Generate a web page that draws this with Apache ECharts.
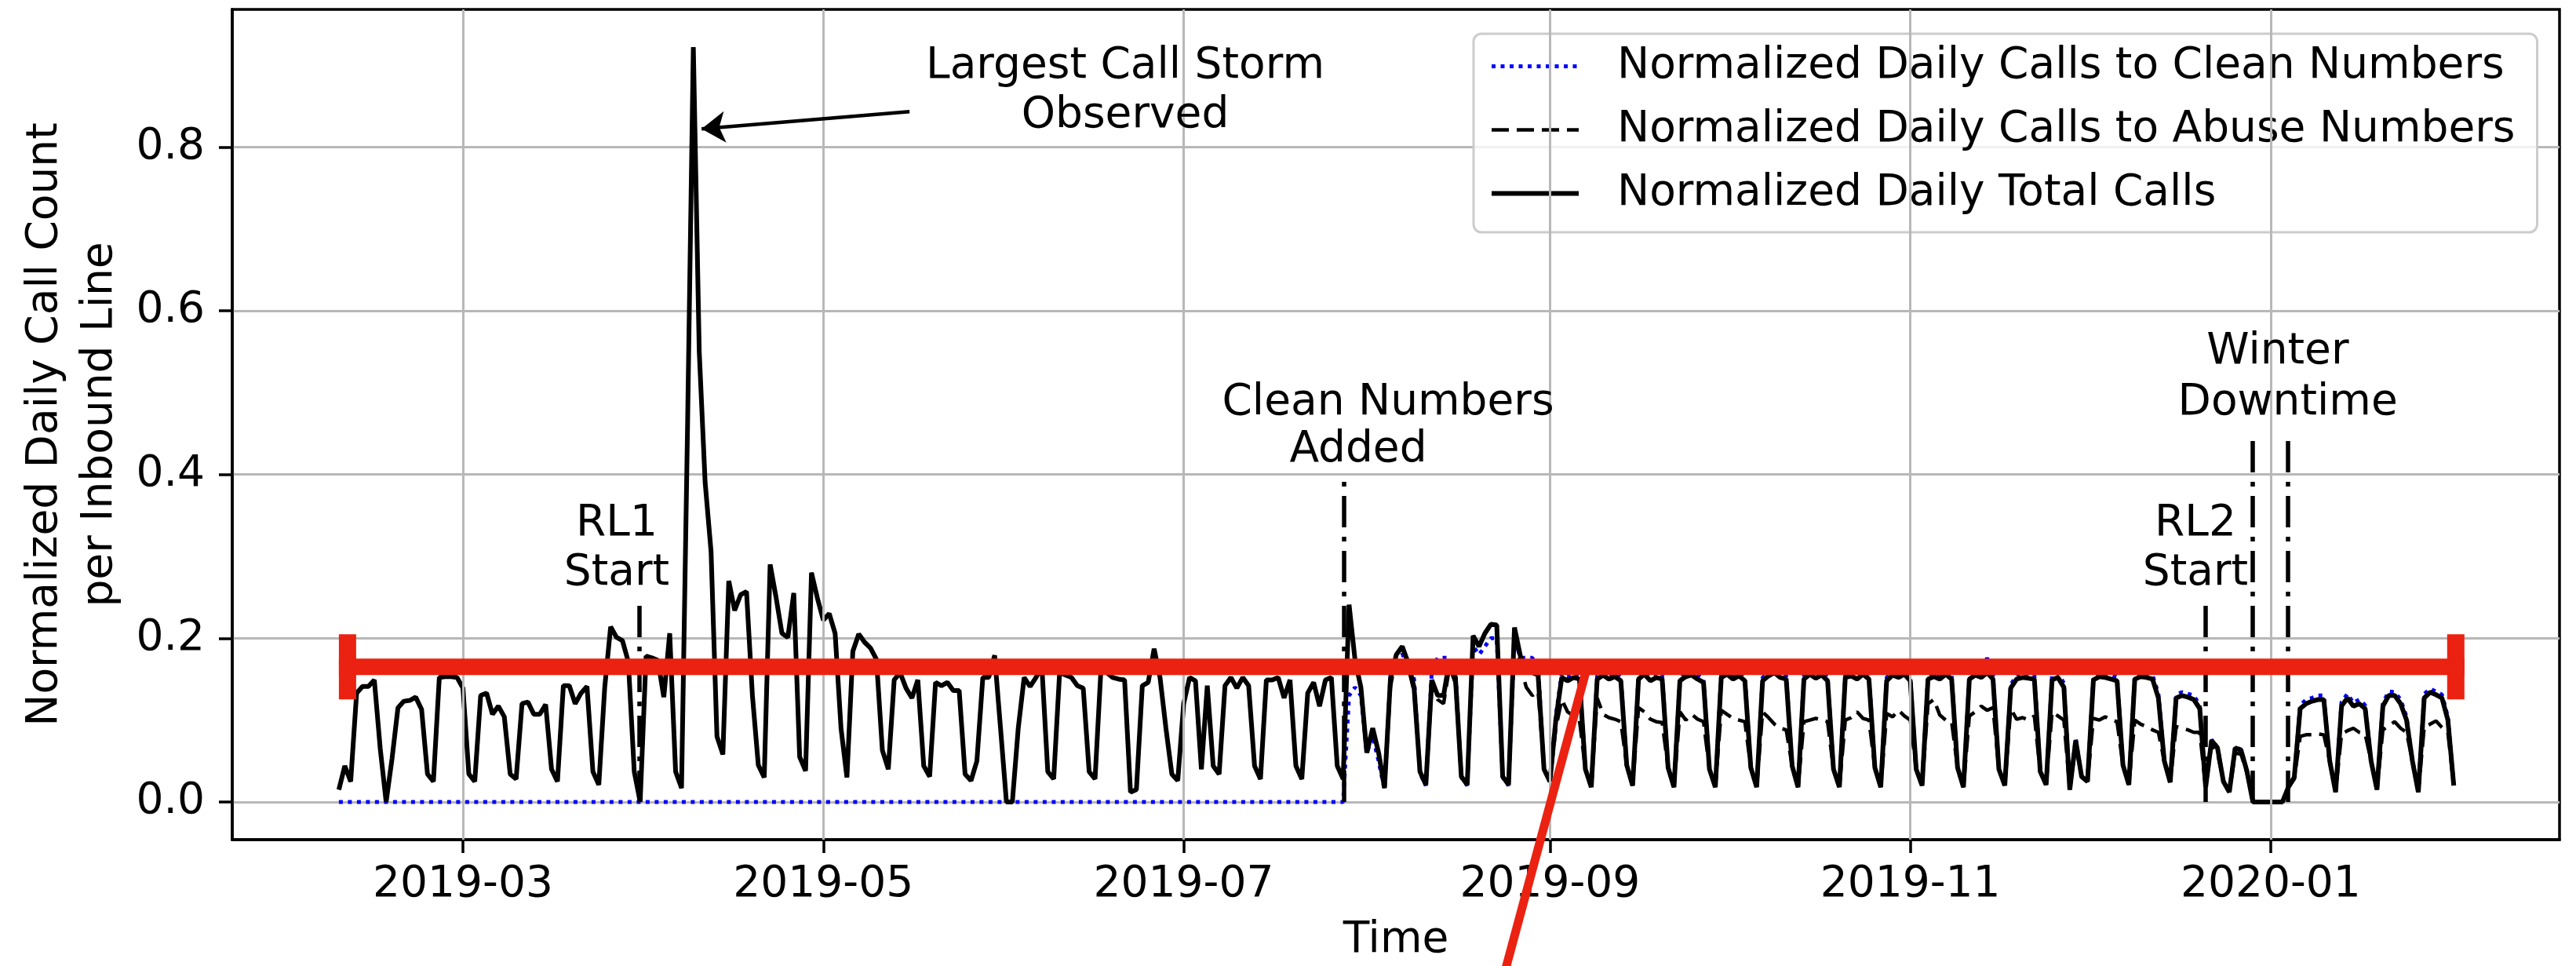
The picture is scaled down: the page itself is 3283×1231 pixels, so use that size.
<!DOCTYPE html>
<html><head><meta charset="utf-8">
<script src="https://cdn.jsdelivr.net/npm/echarts@6/dist/echarts.min.js"></script>
<style>html,body{margin:0;padding:0;background:#fff}#c{width:3283px;height:1231px}</style>
</head><body><div id="c"></div>
<script>
// ---------------- data (daily, first day = 2019-02-08) ----------------
const firstDay = [2019, 1, 8];
const seriesNames = ['Normalized Daily Calls to Clean Numbers', 'Normalized Daily Calls to Abuse Numbers', 'Normalized Daily Total Calls'];
const xTickLabels = ['2019-03', '2019-05', '2019-07', '2019-09', '2019-11', '2020-01'];
const yTickValues = [0, 0.2, 0.4, 0.6, 0.8];

const total = [
0.015,0.044,0.025,
0.133,0.141,0.141,0.149,0.065,0.0,0.053,
0.115,0.123,0.124,0.128,0.113,0.034,0.025,
0.152,0.153,0.153,0.152,0.139,0.034,0.025,
0.130,0.133,0.107,0.117,0.104,0.034,0.028,
0.120,0.122,0.107,0.107,0.119,0.040,0.025,
0.142,0.142,0.120,0.133,0.141,0.037,0.021,
0.140,0.214,0.201,0.197,0.171,0.037,0.0,
0.178,0.176,0.173,0.128,0.206,0.037,0.017,
0.450,0.922,0.550,0.390,0.306,0.080,0.058,
0.270,0.234,0.253,0.257,0.130,0.045,0.030,
0.290,0.250,0.206,0.201,0.255,0.055,0.038,
0.280,0.249,0.222,0.230,0.206,0.090,0.030,
0.184,0.205,0.195,0.188,0.174,0.063,0.040,
0.149,0.158,0.139,0.127,0.149,0.044,0.031,
0.146,0.142,0.146,0.136,0.136,0.034,0.026,
0.050,0.152,0.152,0.179,0.090,0.000,0.000,
0.090,0.152,0.141,0.152,0.165,0.037,0.028,
0.158,0.155,0.152,0.142,0.139,0.037,0.028,
0.162,0.158,0.152,0.150,0.149,0.012,0.015,
0.142,0.146,0.187,0.152,0.090,0.034,0.026,
0.120,0.152,0.148,0.040,0.142,0.044,0.034,
0.142,0.152,0.139,0.152,0.142,0.044,0.028,
0.149,0.149,0.152,0.127,0.149,0.044,0.028,
0.133,0.146,0.117,0.149,0.152,0.044,0.028,
0.241,0.174,0.140,0.060,0.090,0.060,0.017,
0.150,0.180,0.190,0.170,0.140,0.037,0.021,
0.149,0.130,0.130,0.173,0.152,0.031,0.021,
0.203,0.190,0.206,0.217,0.216,0.031,0.021,
0.213,0.178,0.160,0.158,0.155,0.040,0.025,
0.100,0.152,0.148,0.152,0.150,0.040,0.018,
0.150,0.155,0.150,0.153,0.148,0.045,0.020,
0.150,0.156,0.148,0.152,0.150,0.042,0.018,
0.148,0.153,0.155,0.150,0.146,0.040,0.018,
0.152,0.156,0.150,0.154,0.148,0.042,0.018,
0.148,0.154,0.158,0.152,0.150,0.044,0.018,
0.150,0.156,0.151,0.155,0.148,0.040,0.018,
0.152,0.154,0.150,0.156,0.150,0.042,0.018,
0.148,0.155,0.152,0.156,0.148,0.040,0.020,
0.150,0.153,0.150,0.156,0.150,0.042,0.018,
0.150,0.155,0.152,0.158,0.150,0.040,0.020,
0.139,0.150,0.152,0.151,0.150,0.037,0.021,
0.149,0.152,0.140,0.015,0.075,0.031,0.025,
0.149,0.153,0.152,0.150,0.148,0.045,0.021,
0.150,0.153,0.152,0.150,0.127,0.050,0.024,
0.127,0.130,0.128,0.125,0.114,0.018,0.075,
0.066,0.025,0.012,0.066,0.063,0.037,0.000,
0.000,0.000,0.000,0.000,0.000,0.018,0.030,
0.114,0.120,0.123,0.125,0.125,0.050,0.012,
0.117,0.127,0.117,0.120,0.114,0.050,0.015,
0.117,0.130,0.130,0.120,0.100,0.050,0.012,
0.127,0.134,0.131,0.127,0.100,0.020
];

const abuse = [
0.015,0.044,0.025,
0.133,0.141,0.141,0.149,0.065,0.0,0.053,
0.115,0.123,0.124,0.128,0.113,0.034,0.025,
0.152,0.153,0.153,0.152,0.139,0.034,0.025,
0.130,0.133,0.107,0.117,0.104,0.034,0.028,
0.120,0.122,0.107,0.107,0.119,0.040,0.025,
0.142,0.142,0.120,0.133,0.141,0.037,0.021,
0.140,0.214,0.201,0.197,0.171,0.037,0.0,
0.178,0.176,0.173,0.128,0.206,0.037,0.017,
0.450,0.922,0.550,0.390,0.306,0.080,0.058,
0.270,0.234,0.253,0.257,0.130,0.045,0.030,
0.290,0.250,0.206,0.201,0.255,0.055,0.038,
0.280,0.249,0.222,0.230,0.206,0.090,0.030,
0.184,0.205,0.195,0.188,0.174,0.063,0.040,
0.149,0.158,0.139,0.127,0.149,0.044,0.031,
0.146,0.142,0.146,0.136,0.136,0.034,0.026,
0.050,0.152,0.152,0.179,0.090,0.000,0.000,
0.090,0.152,0.141,0.152,0.165,0.037,0.028,
0.158,0.155,0.152,0.142,0.139,0.037,0.028,
0.162,0.158,0.152,0.150,0.149,0.012,0.015,
0.142,0.146,0.187,0.152,0.090,0.034,0.026,
0.120,0.152,0.148,0.040,0.142,0.044,0.034,
0.142,0.152,0.139,0.152,0.142,0.044,0.028,
0.149,0.149,0.152,0.127,0.149,0.044,0.028,
0.133,0.146,0.117,0.149,0.152,0.044,0.028,
0.241,0.174,0.140,0.060,0.090,0.060,0.017,
0.140,0.180,0.190,0.165,0.135,0.037,0.021,
0.140,0.125,0.120,0.165,0.145,0.031,0.021,
0.203,0.190,0.206,0.217,0.216,0.031,0.021,
0.210,0.165,0.140,0.130,0.135,0.040,0.025,
0.090,0.125,0.110,0.105,0.100,0.040,0.018,
0.127,0.107,0.103,0.101,0.098,0.045,0.020,
0.115,0.110,0.101,0.098,0.097,0.042,0.018,
0.110,0.100,0.107,0.101,0.098,0.040,0.018,
0.112,0.107,0.102,0.100,0.098,0.042,0.018,
0.110,0.103,0.095,0.090,0.088,0.044,0.018,
0.098,0.100,0.102,0.100,0.098,0.040,0.018,
0.100,0.103,0.110,0.102,0.100,0.042,0.018,
0.108,0.104,0.112,0.105,0.100,0.040,0.020,
0.120,0.125,0.106,0.100,0.098,0.042,0.018,
0.105,0.110,0.117,0.112,0.115,0.040,0.020,
0.114,0.101,0.103,0.100,0.105,0.037,0.021,
0.110,0.105,0.100,0.015,0.070,0.031,0.025,
0.102,0.100,0.104,0.100,0.098,0.045,0.021,
0.100,0.095,0.092,0.088,0.085,0.050,0.024,
0.092,0.090,0.088,0.085,0.085,0.018,0.070,
0.060,0.025,0.012,0.060,0.058,0.035,0.000,
0.000,0.000,0.000,0.000,0.000,0.018,0.028,
0.080,0.082,0.082,0.083,0.082,0.050,0.012,
0.083,0.087,0.090,0.085,0.083,0.050,0.015,
0.088,0.093,0.098,0.090,0.085,0.050,0.012,
0.092,0.095,0.099,0.091,0.085,0.020
];

const clean = [
0,0,0,
0,0,0,0,0,0,0, 0,0,0,0,0,0,0, 0,0,0,0,0,0,0, 0,0,0,0,0,0,0,
0,0,0,0,0,0,0, 0,0,0,0,0,0,0, 0,0,0,0,0,0,0, 0,0,0,0,0,0,0,
0,0,0,0,0,0,0, 0,0,0,0,0,0,0, 0,0,0,0,0,0,0, 0,0,0,0,0,0,0,
0,0,0,0,0,0,0, 0,0,0,0,0,0,0, 0,0,0,0,0,0,0, 0,0,0,0,0,0,0,
0,0,0,0,0,0,0, 0,0,0,0,0,0,0, 0,0,0,0,0,0,0, 0,0,0,0,0,0,0,
0,0,0,0,0,0,0, 0,0,0,0,0,0,0, 0,0,0,0,0,0,0, 0,0,0,0,0,0,0,
0.130,0.140,0.130,0.060,0.080,0.050,0.015,
0.155,0.175,0.180,0.170,0.150,0.035,0.020,
0.160,0.176,0.176,0.176,0.160,0.030,0.020,
0.190,0.180,0.190,0.200,0.200,0.030,0.020,
0.200,0.176,0.176,0.176,0.165,0.040,0.025,
0.105,0.157,0.153,0.157,0.154,0.040,0.018,
0.154,0.160,0.155,0.158,0.152,0.045,0.020,
0.155,0.160,0.153,0.157,0.155,0.042,0.018,
0.152,0.158,0.160,0.155,0.150,0.040,0.018,
0.157,0.160,0.155,0.158,0.152,0.042,0.018,
0.152,0.158,0.176,0.157,0.154,0.044,0.018,
0.155,0.160,0.155,0.160,0.152,0.040,0.018,
0.157,0.158,0.155,0.160,0.155,0.042,0.018,
0.152,0.160,0.157,0.160,0.152,0.040,0.020,
0.155,0.158,0.155,0.160,0.155,0.042,0.018,
0.155,0.160,0.157,0.176,0.155,0.040,0.020,
0.143,0.155,0.157,0.155,0.155,0.037,0.021,
0.154,0.157,0.145,0.015,0.077,0.031,0.025,
0.154,0.158,0.157,0.155,0.153,0.045,0.021,
0.155,0.158,0.157,0.155,0.132,0.050,0.024,
0.131,0.134,0.132,0.130,0.118,0.018,0.076,
0.067,0.025,0.012,0.067,0.064,0.037,0.000,
0.000,0.000,0.000,0.000,0.000,0.018,0.030,
0.118,0.125,0.127,0.130,0.130,0.050,0.012,
0.122,0.132,0.121,0.125,0.118,0.050,0.015,
0.121,0.135,0.134,0.125,0.104,0.050,0.012,
0.132,0.138,0.135,0.131,0.104,0.020
];

// annotations (positions in days since first day, value units)
const notes = [
  {text: 'Largest Call Storm\nObserved', day: 133.1, y: 0.8686},
  {text: 'RL1\nStart', day: 47.03, y: 0.3093},
  {text: 'Clean Numbers', day: 177.6, y: 0.4876},
  {text: 'Added', day: 172.55, y: 0.4293},
  {text: 'RL2\nStart', day: 314.27, y: 0.3093},
  {text: 'Winter', day: 328.2, y: 0.5497},
  {text: 'Downtime', day: 329.9, y: 0.4876}
];
const eventLines = [
  {day: 50.88, top: 0.2495},
  {day: 170.15, top: 0.3996},
  {day: 315.95, top: 0.2495},
  {day: 323.96, top: 0.4484},
  {day: 329.94, top: 0.4484}
];
const arrow = {from: [96.6, 0.8432], to: [61.4, 0.8222]};
const redMark = {startDay: 0, endDay: 359.8, level: 0.165, diagDay: 211.16};
const xRange = [-18.05, 375.9];
const yRange = [-0.0461, 0.9681];

// ---------------- build ----------------
const DAY = 86400000;
const t0 = new Date(firstDay[0], firstDay[1], firstDay[2]).getTime();
const dayTime = d => t0 + d * DAY;
const dates = total.map((_, i) => new Date(firstDay[0], firstDay[1], firstDay[2] + i).getTime());
const pairs = arr => arr.map((v, i) => [dates[i], v]);
const xTickValues = xTickLabels.map(s => { const p = s.split('-'); return new Date(+p[0], +p[1] - 1, 1).getTime(); });
const fmtMonth = v => { const d = new Date(v); return d.getFullYear() + '-' + String(d.getMonth() + 1).padStart(2, '0'); };

const FONT = 'DejaVu Sans';
const GRID = '#b8b8b8';
const styles = [
  {color: '#0000ff', width: 5, type: [5, 6.5]},
  {color: '#000000', width: 4.5, type: [22, 10]},
  {color: '#000000', width: 6, type: 'solid'}
];
const chart = echarts.init(document.getElementById('c'), null, {renderer: 'canvas'});

const option = {
  animation: false,
  backgroundColor: '#ffffff',
  textStyle: {fontFamily: FONT},
  grid: {left: 296, right: 21, top: 12, bottom: 158, show: true, borderColor: '#000', borderWidth: 3.5, backgroundColor: 'transparent'},
  legend: {
    data: seriesNames.map((n, i) => ({name: n, itemStyle: {opacity: 0}, lineStyle: {color: styles[i].color, width: styles[i].width, type: styles[i].type}})),
    orient: 'vertical', left: 1878, top: 43,
    padding: [14, 28, 22, 20], itemGap: 26, itemWidth: 111, itemHeight: 30,
    itemStyle: {opacity: 0},
    backgroundColor: 'rgba(255,255,255,0.8)', borderColor: '#cccccc', borderWidth: 3, borderRadius: 10,
    textStyle: {fontFamily: FONT, fontSize: 55, color: '#000', lineHeight: 55, padding: [0, 0, 0, 44]}
  },
  xAxis: {
    type: 'value', min: dayTime(xRange[0]), max: dayTime(xRange[1]),
    name: 'Time', nameLocation: 'middle', nameGap: 101,
    nameTextStyle: {fontFamily: FONT, fontSize: 55, color: '#000'},
    axisLine: {show: true, onZero: false, lineStyle: {color: '#000', width: 3.5}},
    axisTick: {show: true, length: 17, lineStyle: {color: '#000', width: 3.5}, customValues: xTickValues},
    axisLabel: {show: true, margin: 30, fontFamily: FONT, fontSize: 55, color: '#000', customValues: xTickValues,
      formatter: fmtMonth},
    splitLine: {show: false}
  },
  yAxis: {
    type: 'value', min: yRange[0], max: yRange[1], splitNumber: 5,
    name: 'Normalized Daily Call Count\nper Inbound Line', nameLocation: 'middle', nameRotate: 90, nameGap: 121,
    nameTextStyle: {fontFamily: FONT, fontSize: 55, color: '#000', lineHeight: 70, align: 'center'},
    axisLine: {show: true, onZero: false, lineStyle: {color: '#000', width: 3.5}},
    axisTick: {show: true, length: 17, lineStyle: {color: '#000', width: 3.5}, customValues: yTickValues},
    axisLabel: {show: true, margin: 35, fontFamily: FONT, fontSize: 55, color: '#000', customValues: yTickValues,
      formatter: v => (Math.round(v * 10) / 10).toFixed(1)},
    splitLine: {show: true, lineStyle: {color: GRID, width: 3}}
  },
  series: [
    {
      name: 'xgrid', type: 'line', data: [], z: 1, silent: true,
      markLine: {
        silent: true, symbol: ['none', 'none'], animation: false, label: {show: false},
        lineStyle: {color: GRID, width: 3, type: 'solid'},
        data: xTickValues.map(t => ({xAxis: t}))
      }
    },
    {
      name: seriesNames[0], type: 'line', data: pairs(clean), symbol: 'none', showSymbol: false, z: 2,
      lineStyle: styles[0], itemStyle: {color: styles[0].color}
    },
    {
      name: seriesNames[1], type: 'line', data: pairs(abuse), symbol: 'none', showSymbol: false, z: 3,
      lineStyle: styles[1], itemStyle: {color: styles[1].color}
    },
    {
      name: seriesNames[2], type: 'line', data: pairs(total), symbol: 'none', showSymbol: false, z: 4,
      lineStyle: styles[2], itemStyle: {color: styles[2].color},
      markLine: {
        silent: true, symbol: ['none', 'none'], animation: false, label: {show: false},
        lineStyle: {color: '#000', width: 5.5, type: [40, 12, 6, 12]},
        data: eventLines.map(e => [{coord: [dayTime(e.day), 0]}, {coord: [dayTime(e.day), e.top]}])
      }
    },
    {
      name: 'annotations', type: 'scatter', z: 6, symbolSize: 1, silent: true,
      itemStyle: {color: 'rgba(0,0,0,0)'},
      data: notes.map(n => ({value: [dayTime(n.day), n.y], text: n.text})),
      label: {show: true, position: 'inside', formatter: p => p.data.text, fontFamily: FONT, fontSize: 55,
        lineHeight: 63, color: '#000000', opacity: 1, textBorderWidth: 0, align: 'center', verticalAlign: 'middle'},
      markLine: {
        silent: true, animation: false, label: {show: false}, symbol: ['none', 'arrow'], symbolSize: 30,
        itemStyle: {color: '#000'},
        lineStyle: {color: '#000', width: 4.5, type: 'solid', opacity: 1},
        data: [[{coord: [dayTime(arrow.from[0]), arrow.from[1]]}, {coord: [dayTime(arrow.to[0]), arrow.to[1]]}]]
      }
    },
    {
      name: 'overlay', type: 'custom', z: 20, clip: false, silent: true,
      encode: {x: [0, 1, 3], y: 2},
      data: [[dayTime(redMark.startDay), dayTime(redMark.endDay), redMark.level, dayTime(redMark.diagDay)]],
      renderItem: (params, api) => {
        const pA = api.coord([api.value(0), api.value(2)]);
        const pB = api.coord([api.value(1), api.value(2)]);
        const pD = api.coord([api.value(3), api.value(2)]);
        const H = api.getHeight();
        const red = '#EB2211';
        const y1 = pD[1] + 4;
        return {type: 'group', children: [
          {type: 'rect', shape: {x: pA[0], y: pA[1] - 10.5, width: pB[0] - pA[0], height: 21}, style: {fill: red}},
          {type: 'rect', shape: {x: pA[0], y: pA[1] - 41.5, width: 22, height: 83}, style: {fill: red}},
          {type: 'rect', shape: {x: pB[0] - 22, y: pB[1] - 41.5, width: 22, height: 83}, style: {fill: red}},
          {type: 'line', shape: {x1: pD[0], y1: y1, x2: pD[0] - 0.27 * (H - y1 + 10), y2: H + 10}, style: {stroke: red, lineWidth: 11}}
        ]};
      }
    }
  ]
};
chart.setOption(option);
</script>
</body></html>
